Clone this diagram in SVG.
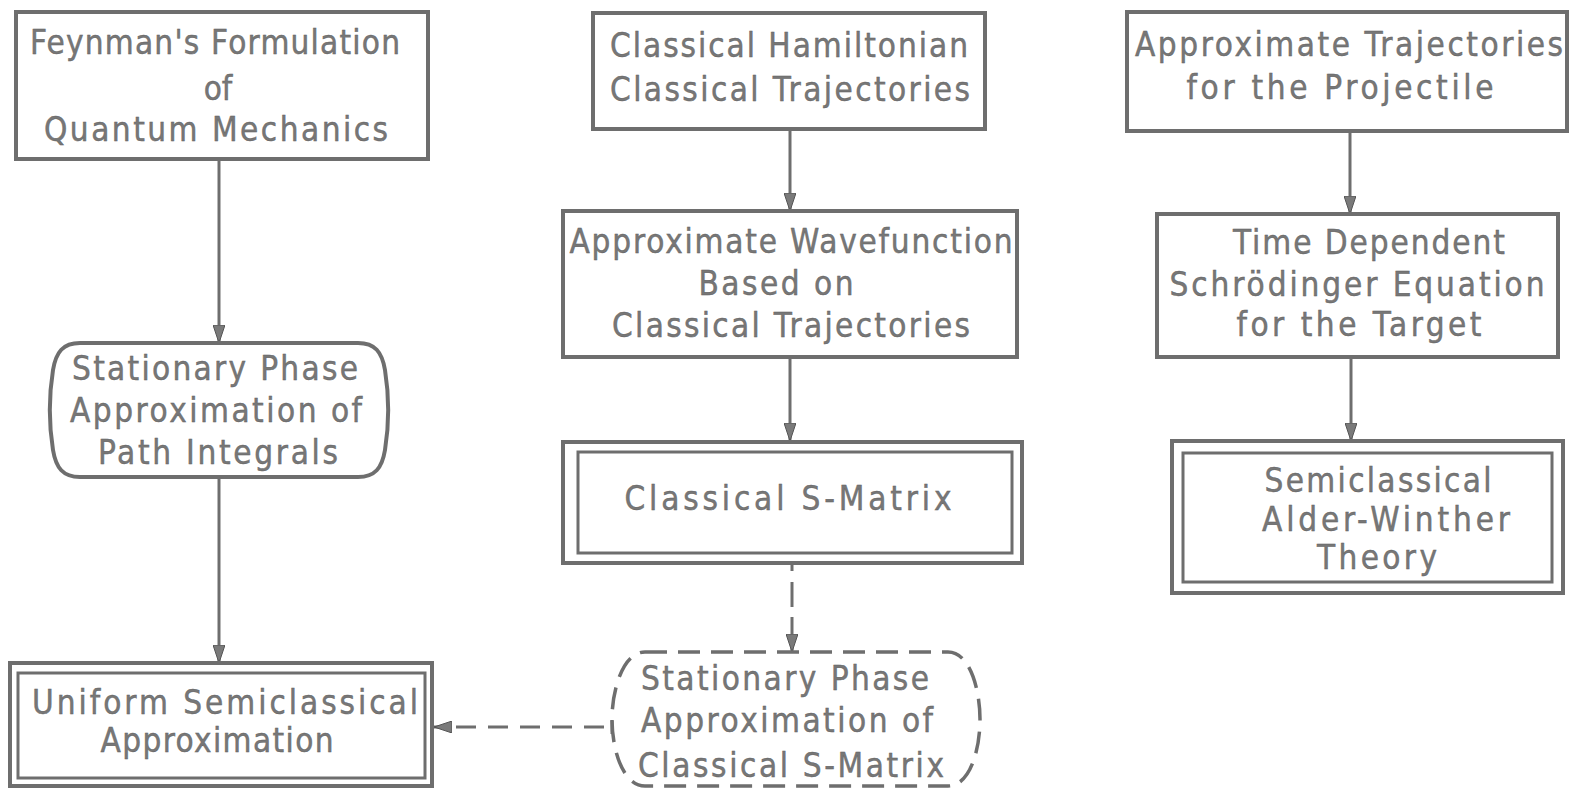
<svg xmlns="http://www.w3.org/2000/svg" width="1572" height="788" viewBox="0 0 1572 788">
<style>
.box{fill:none;stroke:#6e6e6e;stroke-width:4}
.inner{fill:none;stroke:#6e6e6e;stroke-width:3}
.dash{fill:none;stroke:#6e6e6e;stroke-width:3.5;stroke-dasharray:22 11}
.t{font-family:"DejaVu Sans","Liberation Sans",sans-serif;font-stretch:condensed;font-size:33px;fill:#777;stroke:#606060;stroke-width:0.4;text-anchor:middle}
.ln{stroke:#6e6e6e;stroke-width:3;fill:none}
</style>
<defs>
<marker id="ah" viewBox="0 0 18 12" refX="18" refY="6" markerWidth="18" markerHeight="12" markerUnits="userSpaceOnUse" orient="auto">
<path d="M0,0 L18,6 L0,12 Z" fill="#7a7a7a" stroke="#555" stroke-width="1"/>
</marker>
</defs>
<rect width="1572" height="788" fill="#fff"/>

<g id="connectors">
<line class="ln" x1="219" y1="160" x2="219" y2="343" marker-end="url(#ah)"/>
<line class="ln" x1="219" y1="477" x2="219" y2="663" marker-end="url(#ah)"/>
<line class="ln" x1="790" y1="130" x2="790" y2="211" marker-end="url(#ah)"/>
<line class="ln" x1="790" y1="357" x2="790" y2="441" marker-end="url(#ah)"/>
<line class="ln" x1="1350" y1="131" x2="1350" y2="214" marker-end="url(#ah)"/>
<line class="ln" x1="1351" y1="357" x2="1351" y2="441" marker-end="url(#ah)"/>
<line class="ln" x1="792" y1="564" x2="792" y2="571"/>
<line class="ln" x1="792" y1="582" x2="792" y2="607"/>
<line class="ln" x1="792" y1="617" x2="792" y2="652" marker-end="url(#ah)"/>
<line class="ln" x1="612" y1="720" x2="612" y2="734"/>
<line class="ln" x1="612" y1="727" x2="434" y2="727" stroke-dasharray="0 8 20 12 20 12 20 12 20 12 20 12 200" marker-end="url(#ah)"/>
</g>

<g id="feynman">
<rect class="box" x="16" y="12" width="412" height="147"/>
<text class="t" x="215" y="54" textLength="370" lengthAdjust="spacing">Feynman's Formulation</text>
<text class="t" x="218" y="100">of</text>
<text class="t" x="216" y="141" textLength="344" lengthAdjust="spacing">Quantum Mechanics</text>
</g>

<g id="stationary-path">
<path class="box" d="M80,343 H358 C375,343 382,352 385,370 C389,395 389,425 385,450 C382,468 375,477 358,477 H80 C63,477 56,468 53,450 C49,425 49,395 53,370 C56,352 63,343 80,343 Z"/>
<text class="t" x="215" y="380" textLength="286" lengthAdjust="spacing">Stationary Phase</text>
<text class="t" x="216" y="422" textLength="292" lengthAdjust="spacing">Approximation of</text>
<text class="t" x="218" y="464" textLength="240" lengthAdjust="spacing">Path Integrals</text>
</g>

<g id="uniform">
<rect class="box" x="10" y="663" width="422" height="123"/>
<rect class="inner" x="18" y="673" width="407" height="105"/>
<text class="t" x="225" y="714" textLength="386" lengthAdjust="spacing">Uniform Semiclassical</text>
<text class="t" x="217" y="752" textLength="233" lengthAdjust="spacing">Approximation</text>
</g>

<g id="hamiltonian">
<rect class="box" x="593" y="13" width="392" height="116"/>
<text class="t" x="789" y="57" textLength="358" lengthAdjust="spacing">Classical Hamiltonian</text>
<text class="t" x="790" y="101" textLength="360" lengthAdjust="spacing">Classical Trajectories</text>
</g>

<g id="wavefunction">
<rect class="box" x="563" y="211" width="454" height="146"/>
<text class="t" x="791" y="253" textLength="443" lengthAdjust="spacing">Approximate Wavefunction</text>
<text class="t" x="776" y="295" textLength="155" lengthAdjust="spacing">Based on</text>
<text class="t" x="791" y="337" textLength="358" lengthAdjust="spacing">Classical Trajectories</text>
</g>

<g id="smatrix">
<rect class="box" x="563" y="442" width="459" height="121"/>
<rect class="inner" x="578" y="452" width="434" height="101"/>
<text class="t" x="788" y="510" textLength="327" lengthAdjust="spacing">Classical S-Matrix</text>
</g>

<g id="stationary-smatrix">
<path class="dash" d="M645,652 H948 C970,652 980,690 980,719 C980,750 970,786 948,786 H645 C623,786 612,750 612,719 C612,690 623,652 645,652 Z"/>
<text class="t" x="785" y="690" textLength="288" lengthAdjust="spacing">Stationary Phase</text>
<text class="t" x="787" y="732" textLength="292" lengthAdjust="spacing">Approximation of</text>
<text class="t" x="791" y="777" textLength="306" lengthAdjust="spacing">Classical S-Matrix</text>
</g>

<g id="projectile">
<rect class="box" x="1127" y="12" width="440" height="119"/>
<text class="t" x="1349" y="56" textLength="428" lengthAdjust="spacing">Approximate Trajectories</text>
<text class="t" x="1340" y="99" textLength="307" lengthAdjust="spacing">for the Projectile</text>
</g>

<g id="time-dependent">
<rect class="box" x="1157" y="214" width="401" height="143"/>
<text class="t" x="1369" y="254" textLength="272" lengthAdjust="spacing">Time Dependent</text>
<text class="t" x="1357" y="296" textLength="375" lengthAdjust="spacing">Schrödinger Equation</text>
<text class="t" x="1359" y="336" textLength="245" lengthAdjust="spacing">for the Target</text>
</g>

<g id="alder-winther">
<rect class="box" x="1172" y="441" width="391" height="152"/>
<rect class="inner" x="1183" y="453" width="369" height="129"/>
<text class="t" x="1378" y="492" textLength="227" lengthAdjust="spacing">Semiclassical</text>
<text class="t" x="1386" y="531" textLength="248" lengthAdjust="spacing">Alder-Winther</text>
<text class="t" x="1377" y="569" textLength="120" lengthAdjust="spacing">Theory</text>
</g>
</svg>
